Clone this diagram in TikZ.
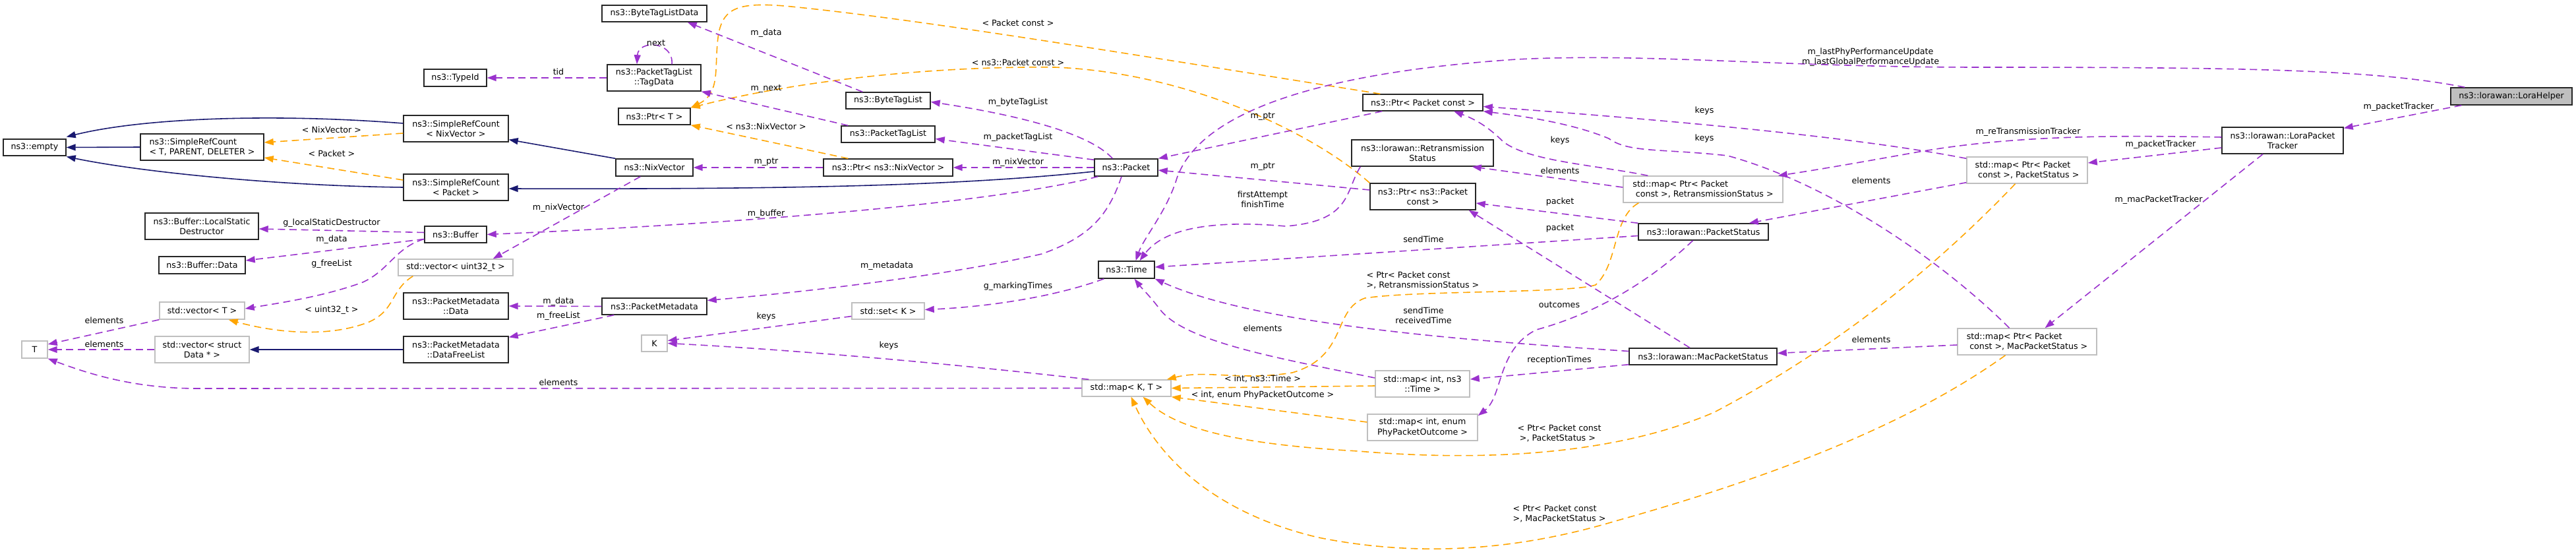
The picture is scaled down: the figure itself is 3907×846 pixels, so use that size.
\documentclass[tikz,border=0pt]{standalone}
\usepackage{fontspec}
\setmainfont{DejaVu Sans}
\usetikzlibrary{arrows.meta,calc}
\definecolor{pur}{HTML}{9A32CD}
\definecolor{org}{HTML}{FFA500}
\definecolor{nav}{HTML}{191970}
\definecolor{gbd}{HTML}{BFBFBF}
\definecolor{hfl}{HTML}{BFBFBF}
\begin{document}
\begin{tikzpicture}[x=0.01cm,y=-0.01cm,
  font=\fontsize{3.6pt}{4.27pt}\selectfont,
  bx/.style 2 args={minimum width=#1*0.01cm,minimum height=#2*0.01cm},
  cls/.style={draw=black!85,line width=0.4pt,fill=white,inner sep=0pt,align=center},
  ext/.style={cls,draw=gbd},
  lbl/.style={inner sep=0pt,align=center},
  ed/.style={line width=0.45pt,dash pattern=on 3.1pt off 1.9pt,-{Triangle[length=1.4mm,width=1mm]}},
  use/.style={ed,draw=pur},
  tmpl/.style={ed,draw=org},
  inh/.style={line width=0.45pt,draw=nav,-{Triangle[length=1.4mm,width=1mm]}}]
\fill[white] (0,0) rectangle (3907,846);
\useasboundingbox (0,0) rectangle (3907,846);
% nodes
\node[cls,bx={95}{25}] (empty) at (52.5,223.5) {ns3::empty};
\node[cls,bx={187}{40},align=left] (srcTPD) at (306.5,223) {ns3::SimpleRefCount\\< T, PARENT, DELETER >};
\node[cls,bx={95}{26}] (typeid) at (690.5,118) {ns3::TypeId};
\node[cls,bx={159}{40}] (srcNix) at (691.5,195) {ns3::SimpleRefCount\\< NixVector >};
\node[cls,bx={159}{40}] (srcPkt) at (691.5,284) {ns3::SimpleRefCount\\< Packet >};
\node[cls,bx={172}{40}] (lsd) at (306,343) {ns3::Buffer::LocalStatic\\Destructor};
\node[cls,bx={131}{26}] (bdata) at (306.5,402) {ns3::Buffer::Data};
\node[cls,bx={94}{25}] (buffer) at (691,355.5) {ns3::Buffer};
\node[ext,bx={174}{25}] (vecu) at (691,405.5) {std::vector< uint32\_t >};
\node[cls,bx={159}{40}] (pmdata) at (691.5,464) {ns3::PacketMetadata\\::Data};
\node[cls,bx={159}{40}] (pmfree) at (691.5,530) {ns3::PacketMetadata\\::DataFreeList};
\node[ext,bx={129}{26}] (vecT) at (306.5,471) {std::vector< T >};
\node[ext,bx={39}{26}] (T) at (52.5,530) {T};
\node[ext,bx={143}{40}] (vecD) at (306.5,530) {std::vector< struct\\Data * >};
\node[cls,bx={159}{25}] (btld) at (992.5,20.5) {ns3::ByteTagListData};
\node[cls,bx={142}{40}] (tagdata) at (992,118) {ns3::PacketTagList\\::TagData};
\node[cls,bx={109}{25}] (ptrT) at (992.5,176.5) {ns3::Ptr< T >};
\node[cls,bx={117}{26}] (nix) at (992.5,254) {ns3::NixVector};
\node[cls,bx={159}{25}] (pmeta) at (992.5,464.5) {ns3::PacketMetadata};
\node[ext,bx={39}{25}] (K) at (992.5,520.5) {K};
\node[cls,bx={128}{25}] (btl) at (1347,152.5) {ns3::ByteTagList};
\node[cls,bx={142}{25}] (ptl) at (1347,203.5) {ns3::PacketTagList};
\node[cls,bx={196}{26}] (ptrNix) at (1347,254) {ns3::Ptr< ns3::NixVector >};
\node[ext,bx={110}{25}] (setK) at (1347,471.5) {std::set< K >};
\node[cls,bx={96}{26}] (packet) at (1708,254) {ns3::Packet};
\node[cls,bx={85}{26}] (time) at (1708.5,409) {ns3::Time};
\node[ext,bx={135}{25}] (mapKT) at (1708.5,588.5) {std::map< K, T >};
\node[cls,bx={182}{25}] (ptrPC) at (2158,155.5) {ns3::Ptr< Packet const >};
\node[cls,bx={215}{40}] (retx) at (2157.5,232) {ns3::lorawan::Retransmission\\Status};
\node[cls,bx={160}{40}] (ptrNPC) at (2158,298) {ns3::Ptr< ns3::Packet\\const >};
\node[ext,bx={143}{40}] (mapIT) at (2157.5,582) {std::map< int, ns3\\::Time >};
\node[ext,bx={167}{40}] (mapIO) at (2157.5,648) {std::map< int, enum\\PhyPacketOutcome >};
\node[ext,bx={242}{40},align=left] (mapRetx) at (2583,287) {std::map< Ptr< Packet\\\hspace*{0.35em}const >, RetransmissionStatus >};
\node[cls,bx={197}{25}] (pktSt) at (2583.5,351.5) {ns3::lorawan::PacketStatus};
\node[cls,bx={224}{25}] (macSt) at (2583,540.5) {ns3::lorawan::MacPacketStatus};
\node[ext,bx={183}{40},align=left] (mapPS) at (3074.5,258) {std::map< Ptr< Packet\\\hspace*{0.35em}const >, PacketStatus >};
\node[ext,bx={211}{40},align=left] (mapMac) at (3074.5,518) {std::map< Ptr< Packet\\\hspace*{0.35em}const >, MacPacketStatus >};
\node[cls,bx={184}{40}] (lpt) at (3462,213) {ns3::lorawan::LoraPacket\\Tracker};
\node[cls,bx={184}{26},fill=hfl] (helper) at (3809,146) {ns3::lorawan::LoraHelper};
% inheritance
\draw[inh] (srcTPD.west) -- (empty.east);
\draw[inh] ($(srcNix.west)+(0,-8)$) .. controls (420,172) and (220,178) .. ($(empty.east)+(0,-16)$);
\draw[inh] (srcPkt.west) .. controls (430,282) and (220,262) .. ($(empty.east)+(0,14)$);
\draw[inh] (nix.north west) -- ($(srcNix.south east)+(0,-4)$);
\draw[inh] ($(packet.west)+(0,6)$) .. controls (1450,282) and (1200,287) .. ($(srcPkt.east)+(0,2)$);
\draw[inh] (pmfree.west) -- (vecD.east);
% templates
\draw[tmpl] ($(srcNix.west)+(0,7)$) -- ($(srcTPD.east)+(0,-7)$);
\draw[tmpl] ($(srcPkt.west)+(0,-11)$) -- ($(srcTPD.east)+(0,16)$);
\draw[tmpl] ($(vecu.south west)+(23,0)$) .. controls (592,440) and (600,470) .. (560,488) .. controls (500,512) and (420,505) .. ($(vecT.south east)+(-25,0)$);
\draw[tmpl] ($(ptrNix.north west)+(38,0)$) -- (ptrT.south east);
\draw[tmpl] ($(ptrPC.north west)+(27,0)$) .. controls (1700,80) and (1400,30) .. (1200,10) .. controls (1120,2) and (1098,12) .. (1090,50) .. controls (1082,100) and (1095,140) .. (ptrT.north east);
\draw[tmpl] (ptrNPC.north west) .. controls (1990,200) and (1800,110) .. (1600,102) .. controls (1400,100) and (1200,125) .. (ptrT.north east);
\draw[tmpl] ($(mapIT.west)+(0,3)$) -- (mapKT.east);
\draw[tmpl] ($(mapIO.west)+(0,-8)$) -- (mapKT.south east);
\draw[tmpl] ($(mapRetx.south west)+(24,0)$) .. controls (2445,330) and (2455,400) .. (2420,432) .. controls (2380,445) and (2150,440) .. (2070,452) .. controls (2020,470) and (2045,540) .. (1960,565) .. controls (1880,578) and (1830,560) .. ($(mapKT.north east)+(-7,0)$);
\draw[tmpl] ($(mapPS.south)+(-18,0)$) .. controls (2950,390) and (2800,520) .. (2600,625) .. controls (2450,690) and (2250,700) .. (2060,684) .. controls (1900,675) and (1790,655) .. ($(mapKT.south)+(25,0)$);
\draw[tmpl] ($(mapMac.south)+(-33,0)$) .. controls (2900,640) and (2700,720) .. (2450,790) .. controls (2300,835) and (2150,845) .. (2000,815) .. controls (1850,780) and (1760,700) .. ($(mapKT.south)+(7,0)$);
% usage
\draw[use] (tagdata.west) -- (typeid.east);
\draw[use] ($(tagdata.north)+(27,0)$) .. controls (1022,62) and (968,60) .. ($(tagdata.north)+(-26,0)$);
\draw[use] ($(btl.north west)+(26,0)$) -- ($(btld.south east)+(-30,0)$);
\draw[use] ($(ptl.north west)+(11,0)$) -- (tagdata.south east);
\draw[use] (ptrNix.west) -- (nix.east);
\draw[use] ($(nix.south west)+(38,0)$) -- ($(vecu.north east)+(-31,0)$);
\draw[use] ($(buffer.west)+(0,-3)$) -- ($(lsd.east)+(0,4)$);
\draw[use] ($(buffer.west)+(0,7)$) -- ($(bdata.east)+(0,-7)$);
\draw[use] ($(buffer.west)+(0,7)$) .. controls (600,375) and (590,410) .. (550,428) .. controls (490,450) and (420,460) .. ($(vecT.east)+(0,-3)$);
\draw[use] (pmeta.west) -- (pmdata.east);
\draw[use] ($(pmeta.south west)+(19,0)$) -- ($(pmfree.north east)+(0,2)$);
\draw[use] (vecT.south west) -- ($(T.east)+(0,-8)$);
\draw[use] (vecD.west) -- (T.east);
\draw[use] (mapKT.west) -- (300,589) .. controls (200,589) and (130,565) .. (T.south east);
\draw[use] ($(mapKT.north west)+(11,0)$) .. controls (1450,552) and (1200,530) .. (K.east);
\draw[use] ($(setK.west)+(0,8)$) -- ($(K.east)+(0,-4)$);
\draw[use] ($(packet.north west)+(28,0)$) .. controls (1660,210) and (1580,180) .. ($(btl.east)+(0,2)$);
\draw[use] ($(packet.north west)+(0,2)$) -- ($(ptl.east)+(0,7)$);
\draw[use] (packet.west) -- (ptrNix.east);
\draw[use] ($(packet.south west)+(6,0)$) .. controls (1500,310) and (1100,340) .. (buffer.east);
\draw[use] ($(packet.south)+(-7,0)$) .. controls (1680,330) and (1650,360) .. (1580,385) .. controls (1450,415) and (1250,440) .. ($(pmeta.east)+(0,-9)$);
\draw[use] ($(time.south west)+(9,0)$) .. controls (1600,450) and (1500,465) .. ($(setK.east)+(0,-2)$);
\draw[use] ($(ptrPC.south west)+(30,0)$) -- (packet.north east);
\draw[use] ($(ptrNPC.west)+(0,-10)$) -- ($(packet.east)+(0,4)$);
\draw[use] ($(retx.south west)+(14,0)$) .. controls (2040,290) and (2050,335) .. (1950,343) .. controls (1860,335) and (1770,340) .. ($(time.north)+(20,0)$);
\draw[use] ($(helper.north west)+(22,0)$) .. controls (3600,105) and (3400,102) .. (3000,102) .. controls (2700,102) and (2500,80) .. (2300,90) .. controls (2000,110) and (1820,170) .. (1785,270) .. controls (1770,320) and (1735,360) .. ($(time.north)+(14,0)$);
\draw[use] ($(helper.south west)+(17,0)$) -- ($(lpt.north east)+(0,2)$);
\draw[use] ($(lpt.west)+(0,-5)$) .. controls (3200,205) and (3050,205) .. (2900,232) .. controls (2800,250) and (2740,260) .. ($(mapRetx.north east)+(-8,0)$);
\draw[use] ($(lpt.west)+(0,11)$) -- ($(mapPS.east)+(0,-11)$);
\draw[use] ($(lpt.south)+(-30,0)$) -- ($(mapMac.north)+(27,0)$);
\draw[use] ($(mapRetx.north west)+(38,0)$) .. controls (2420,250) and (2320,245) .. (2280,215) .. controls (2255,190) and (2235,180) .. ($(ptrPC.south)+(47,0)$);
\draw[use] ($(mapRetx.west)+(0,-3)$) -- ($(retx.south east)+(-33,0)$);
\draw[use] ($(mapPS.north west)+(0,3)$) .. controls (2800,205) and (2500,180) .. ($(ptrPC.east)+(0,6)$);
\draw[use] ($(mapMac.north)+(-27,0)$) .. controls (2950,400) and (2780,280) .. (2620,236) .. controls (2520,225) and (2470,232) .. (2440,210) .. controls (2380,185) and (2300,175) .. (ptrPC.south east);
\draw[use] ($(mapPS.south west)+(0,-2)$) -- ($(pktSt.north east)+(-30,0)$);
\draw[use] ($(mapMac.west)+(0,5)$) -- ($(macSt.east)+(0,-5)$);
\draw[use] (pktSt.north west) -- ($(ptrNPC.east)+(0,10)$);
\draw[use] ($(macSt.north)+(-20,0)$) -- ($(ptrNPC.south east)+(-11,0)$);
\draw[use] ($(pktSt.west)+(0,6)$) -- ($(time.east)+(0,-4)$);
\draw[use] ($(macSt.west)+(0,-8)$) .. controls (2200,515) and (1900,490) .. (time.south east);
\draw[use] ($(macSt.south west)+(0,-1)$) -- ($(mapIT.east)+(0,-7)$);
\draw[use] ($(pktSt.south)+(-16,0)$) .. controls (2520,410) and (2440,470) .. (2330,500) .. controls (2270,530) and (2280,600) .. ($(mapIO.north east)+(0,3)$);
\draw[use] ($(mapIT.west)+(0,-9)$) .. controls (1950,545) and (1800,520) .. (1760,470) .. controls (1745,450) and (1730,435) .. ($(time.south)+(12,0)$);
% labels
\node[lbl] (a1) at (503,197) {< NixVector >};
\node[lbl] (a2) at (503,233) {< Packet >};
\node[lbl] (a3) at (503,338) {g\_localStaticDestructor};
\node[lbl] (a4) at (503,363) {m\_data};
\node[lbl] (a5) at (503,400) {g\_freeList};
\node[lbl] (a6) at (503,470) {< uint32\_t >};
\node[lbl] (a7) at (158,486) {elements};
\node[lbl] (a8) at (158,522) {elements};
\node[lbl] (a9) at (847,109) {tid};
\node[lbl] (a10) at (995,65) {next};
\node[lbl] (a11) at (1162,50) {m\_data};
\node[lbl] (a12) at (1162,135) {m\_next};
\node[lbl] (a13) at (1162,192) {< ns3::NixVector >};
\node[lbl] (a14) at (1162,246) {m\_ptr};
\node[lbl] (a15) at (847,315) {m\_nixVector};
\node[lbl] (a16) at (1162,324) {m\_buffer};
\node[lbl] (a17) at (1345,403) {m\_metadata};
\node[lbl] (a18) at (847,457) {m\_data};
\node[lbl] (a19) at (847,479) {m\_freeList};
\node[lbl] (a20) at (1162,480) {keys};
\node[lbl] (a21) at (1348,524) {keys};
\node[lbl] (a22) at (847,580) {elements};
\node[lbl] (a23) at (1544,35) {< Packet const >};
\node[lbl] (a24) at (1544,95) {< ns3::Packet const >};
\node[lbl] (a25) at (1544,155) {m\_byteTagList};
\node[lbl] (a26) at (1544,208) {m\_packetTagList};
\node[lbl] (a27) at (1544,246) {m\_nixVector};
\node[lbl] (a28) at (1544,434) {g\_markingTimes};
\node[lbl] (a29) at (1915,177) {m\_ptr};
\node[lbl] (a30) at (1915,253) {m\_ptr};
\node[lbl] (a31) at (1915,302) {firstAttempt\\finishTime};
\node[lbl] (a32) at (1915,498) {elements};
\node[lbl] (a33) at (1915,574) {< int, ns3::Time >};
\node[lbl] (a34) at (1915,599) {< int, enum PhyPacketOutcome >};
\node[lbl] (a35) at (2366,213) {keys};
\node[lbl] (a36) at (2366,259) {elements};
\node[lbl] (a37) at (2366,306) {packet};
\node[lbl] (a38) at (2366,346) {packet};
\node[lbl] (a39) at (2159,363) {sendTime};
\node[lbl,align=left,anchor=west] (a40) at (2072,425) {< Ptr< Packet const\\>, RetransmissionStatus >};
\node[lbl] (a41) at (2159,478.5) {sendTime\\receivedTime};
\node[lbl] (a42) at (2365,462) {outcomes};
\node[lbl] (a43) at (2365,546) {receptionTimes};
\node[lbl,align=left,anchor=west] (a44) at (2301,656.5) {< Ptr< Packet const\\\hspace*{0.25em}>, PacketStatus >};
\node[lbl,align=left,anchor=west] (a45) at (2294,778.5) {< Ptr< Packet const\\>, MacPacketStatus >};
\node[lbl] (a46) at (2585,168) {keys};
\node[lbl] (a47) at (2585,210) {keys};
\node[lbl] (a48) at (2837,86.5) {m\_lastPhyPerformanceUpdate\\m\_lastGlobalPerformanceUpdate};
\node[lbl] (a49) at (3076,200) {m\_reTransmissionTracker};
\node[lbl] (a50) at (3277,219) {m\_packetTracker};
\node[lbl] (a51) at (2838,274) {elements};
\node[lbl] (a52) at (3274,303) {m\_macPacketTracker};
\node[lbl] (a53) at (2838,515) {elements};
\node[lbl] (a54) at (3638,162) {m\_packetTracker};
\end{tikzpicture}
\end{document}
